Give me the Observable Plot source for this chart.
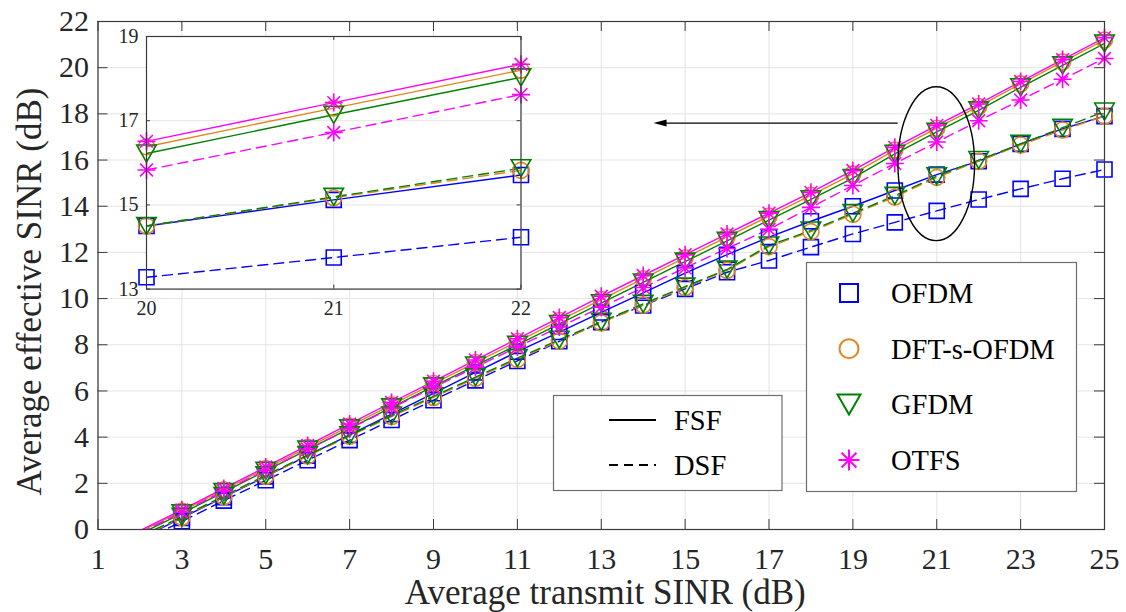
<!DOCTYPE html>
<html>
<head>
<meta charset="utf-8">
<script src="https://cdn.jsdelivr.net/npm/d3@7"></script>
<script src="https://cdn.jsdelivr.net/npm/@observablehq/plot@0.6"></script>
<style>
  html, body { margin: 0; padding: 0; background: #fff; }
  #chart { position: relative; width: 1126px; height: 612px; overflow: hidden; }
  #chart > div, #chart > svg { position: absolute; }
  #overlay { left: 0; top: 0; pointer-events: none; }
</style>
</head>
<body>
<div id="chart"></div>
<script>
// ---- data: average effective SINR (dB) versus average transmit SINR (dB) ----
const snr = [2, 3, 4, 5, 6, 7, 8, 9, 10, 11, 12, 13, 14, 15, 16, 17, 18, 19, 20, 21, 22, 23, 24, 25];

// frequency-selective fading (FSF)
const ofdmFSF = [-0.40, 0.50, 1.40, 2.30, 3.20, 4.10, 5.00, 5.90, 6.80, 7.70, 8.55, 9.40, 10.25, 11.10, 11.90, 12.66, 13.35, 14.00, 14.68, 15.37, 15.95, 16.70, 17.35, 17.90];
const dftFSF  = [-0.10, 0.80, 1.72, 2.64, 3.56, 4.48, 5.40, 6.32, 7.23, 8.14, 9.05, 9.96, 10.86, 11.77, 12.67, 13.57, 14.47, 15.40, 16.43, 17.38, 18.32, 19.30, 20.25, 21.20];
const gfdmFSF = [-0.20, 0.70, 1.62, 2.54, 3.46, 4.38, 5.29, 6.20, 7.10, 8.00, 8.90, 9.80, 10.70, 11.60, 12.50, 13.40, 14.30, 15.22, 16.27, 17.22, 18.15, 19.15, 20.10, 21.05];
const otfsFSF = [-0.05, 0.85, 1.78, 2.71, 3.64, 4.57, 5.50, 6.42, 7.34, 8.26, 9.18, 10.10, 11.00, 11.90, 12.80, 13.70, 14.60, 15.55, 16.55, 17.50, 18.43, 19.40, 20.35, 21.30];

// doubly-selective fading (DSF)
const ofdmDSF = [-0.55, 0.35, 1.25, 2.13, 3.00, 3.87, 4.74, 5.60, 6.46, 7.30, 8.15, 8.98, 9.70, 10.42, 11.14, 11.65, 12.23, 12.80, 13.30, 13.80, 14.29, 14.75, 15.19, 15.59];
const dftDSF  = [-0.35, 0.52, 1.42, 2.31, 3.18, 4.04, 4.89, 5.72, 6.55, 7.37, 8.17, 8.95, 9.72, 10.48, 11.22, 12.25, 12.90, 13.65, 14.40, 15.25, 15.95, 16.65, 17.30, 17.90];
const gfdmDSF = [-0.30, 0.55, 1.45, 2.35, 3.22, 4.08, 4.93, 5.77, 6.60, 7.42, 8.22, 9.00, 9.77, 10.52, 11.26, 12.30, 12.95, 13.70, 14.45, 15.30, 16.00, 16.70, 17.40, 18.10];
const otfsDSF = [-0.15, 0.75, 1.66, 2.57, 3.47, 4.37, 5.26, 6.15, 7.03, 7.90, 8.77, 9.63, 10.48, 11.33, 12.17, 13.00, 13.95, 14.90, 15.85, 16.78, 17.70, 18.60, 19.50, 20.40];

// zoomed view over 20-22 dB
const zoomSnr = [20, 21, 22];
const zoomOfdmFSF = [14.50, 15.12, 15.71];
const zoomDftFSF  = [16.38, 17.30, 18.20];
const zoomGfdmFSF = [16.22, 17.14, 18.03];
const zoomOtfsFSF = [16.51, 17.43, 18.34];
const zoomOfdmDSF = [13.28, 13.75, 14.23];
const zoomDftDSF  = [14.50, 15.17, 15.82];
const zoomGfdmDSF = [14.50, 15.19, 15.87];
const zoomOtfsDSF = [15.83, 16.72, 17.62];

const waveforms = ["OFDM", "DFT-s-OFDM", "GFDM", "OTFS"];
const fadingTypes = ["FSF", "DSF"];
const xTicks = [1, 3, 5, 7, 9, 11, 13, 15, 17, 19, 21, 23, 25];
const yTicks = [0, 2, 4, 6, 8, 10, 12, 14, 16, 18, 20, 22];
const zoomXTicks = [20, 21, 22];
const zoomYTicks = [13, 15, 17, 19];

const xLabel = "Average transmit SINR (dB)";
const yLabel = "Average effective SINR (dB)";

// ---- styling ----
const colors = {"OFDM": "#0000ff", "DFT-s-OFDM": "#e0861c", "GFDM": "#008000", "OTFS": "#ff00ff"};
const dashes = {"FSF": null, "DSF": "10,6"};
const FONT = "'Liberation Serif', 'Times New Roman', Times, serif";
const AXIS = "#3a3a3a";
const GRID = "#e4e4e4";

// marker shapes (MATLAB style: square, circle, down-triangle, asterisk)
const square = {draw(c, size) { const r = Math.sqrt(size / Math.PI); c.moveTo(-r, -r); c.lineTo(r, -r); c.lineTo(r, r); c.lineTo(-r, r); c.closePath(); }};
const circle = {draw(c, size) { const r = Math.sqrt(size / Math.PI); c.moveTo(r, 0); c.arc(0, 0, r, 0, 2 * Math.PI); c.closePath(); }};
const triDown = {draw(c, size) { const r = Math.sqrt(size / Math.PI); c.moveTo(-r * 1.15, -r); c.lineTo(r * 1.15, -r); c.lineTo(0, r); c.closePath(); }};
const asterisk = {draw(c, size) {
  const r = Math.sqrt(size / Math.PI), d = r * Math.SQRT1_2;
  c.moveTo(0, -r); c.lineTo(0, r); c.moveTo(-r, 0); c.lineTo(r, 0);
  c.moveTo(-d, -d); c.lineTo(d, d); c.moveTo(-d, d); c.lineTo(d, -d);
}};
const symbols = {"OFDM": square, "DFT-s-OFDM": circle, "GFDM": triDown, "OTFS": asterisk};
const markerR = {"OFDM": 7.5, "DFT-s-OFDM": 8, "GFDM": 8.5, "OTFS": 9};

function rows(xs, table) {
  const out = [];
  for (const w of waveforms) for (const f of fadingTypes) {
    table[w][f].forEach((v, i) => out.push({x: xs[i], v, wave: w, fading: f}));
  }
  return out;
}

const mainRows = rows(snr, {
  "OFDM": {FSF: ofdmFSF, DSF: ofdmDSF},
  "DFT-s-OFDM": {FSF: dftFSF, DSF: dftDSF},
  "GFDM": {FSF: gfdmFSF, DSF: gfdmDSF},
  "OTFS": {FSF: otfsFSF, DSF: otfsDSF}
});
const zoomRows = rows(zoomSnr, {
  "OFDM": {FSF: zoomOfdmFSF, DSF: zoomOfdmDSF},
  "DFT-s-OFDM": {FSF: zoomDftFSF, DSF: zoomDftDSF},
  "GFDM": {FSF: zoomGfdmFSF, DSF: zoomGfdmDSF},
  "OTFS": {FSF: zoomOtfsFSF, DSF: zoomOtfsDSF}
});

function seriesMarks(data, yMin) {
  const marks = [];
  for (const f of fadingTypes) for (const w of waveforms) {
    const d = data.filter(r => r.wave === w && r.fading === f);
    marks.push(Plot.line(d, {x: "x", y: "v", stroke: colors[w], strokeWidth: 1.4, strokeDasharray: dashes[f], clip: true}));
  }
  for (const f of fadingTypes) for (const w of waveforms) {
    const d = data.filter(r => r.wave === w && r.fading === f && r.v >= yMin);
    marks.push(Plot.dot(d, {x: "x", y: "v", symbol: symbols[w], r: markerR[w], stroke: colors[w], fill: "none", strokeWidth: 1.6}));
  }
  return marks;
}

// inward ticks on all four sides of a frame
function boxTicks(xt, yt, len, frameW, frameH) {
  return [
    Plot.tickX(xt, {x: d => d, stroke: AXIS, insetTop: frameH - len}),
    Plot.tickX(xt, {x: d => d, stroke: AXIS, insetBottom: frameH - len}),
    Plot.tickY(yt, {y: d => d, stroke: AXIS, insetRight: frameW - len}),
    Plot.tickY(yt, {y: d => d, stroke: AXIS, insetLeft: frameW - len})
  ];
}

// ---- main axes ----
const M = {left: 97.5, right: 22, top: 21, bottom: 83};
const W = 1126, H = 612;
const fw = W - M.left - M.right, fh = H - M.top - M.bottom;

const mainPlot = Plot.plot({
  width: W, height: H,
  marginLeft: M.left, marginRight: M.right, marginTop: M.top, marginBottom: M.bottom,
  x: {domain: [1, 25]},
  y: {domain: [0, 22]},
  style: {fontFamily: FONT, fontSize: "30px", color: "#262626", background: "#fff", overflow: "visible"},
  marks: [
    Plot.gridX(xTicks, {stroke: GRID, strokeOpacity: 1}),
    Plot.gridY(yTicks, {stroke: GRID, strokeOpacity: 1}),
    ...seriesMarks(mainRows, 0),
    Plot.frame({stroke: AXIS, strokeWidth: 1.2}),
    ...boxTicks(xTicks, yTicks, 10, fw, fh),
    Plot.axisX(xTicks, {tickSize: 0, tickPadding: 18, fontSize: 30, fontFamily: FONT, fill: "#262626", label: null, tickFormat: d => String(d)}),
    Plot.axisY(yTicks, {tickSize: 0, tickPadding: 9, fontSize: 30, fontFamily: FONT, fill: "#262626", label: null, tickFormat: d => String(d)}),
    Plot.text([xLabel], {frameAnchor: "bottom", lineAnchor: "middle", textAnchor: "middle", dx: 4, dy: 63, fontSize: 35, fontFamily: FONT, fill: "#262626"}),
    Plot.text([yLabel], {frameAnchor: "left", lineAnchor: "middle", textAnchor: "middle", dx: -68, dy: 16, rotate: -90, fontSize: 35, fontFamily: FONT, fill: "#262626"})
  ]
});
mainPlot.style.left = "0px";
mainPlot.style.top = "0px";
document.getElementById("chart").appendChild(mainPlot);

const sx = mainPlot.scale("x"), sy = mainPlot.scale("y");

// ---- zoomed inset ----
const IM = {left: 30, right: 12, top: 12, bottom: 34};
const inLeft = 146, inRight = 520.5, inTop = 35.7, inBottom = 288.3;
const ifw = inRight - inLeft, ifh = inBottom - inTop;
const inset = Plot.plot({
  width: ifw + IM.left + IM.right, height: ifh + IM.top + IM.bottom,
  marginLeft: IM.left, marginRight: IM.right, marginTop: IM.top, marginBottom: IM.bottom,
  x: {domain: [20, 22]},
  y: {domain: [13, 19]},
  style: {fontFamily: FONT, fontSize: "20px", color: "#262626", background: "transparent", overflow: "visible"},
  marks: [
    Plot.frame({fill: "#fff"}),
    Plot.gridX(zoomXTicks, {stroke: GRID, strokeOpacity: 1}),
    Plot.gridY(zoomYTicks, {stroke: GRID, strokeOpacity: 1}),
    ...seriesMarks(zoomRows, 13),
    Plot.frame({stroke: AXIS, strokeWidth: 1.2}),
    ...boxTicks(zoomXTicks, zoomYTicks, 4, ifw, ifh),
    Plot.axisX(zoomXTicks, {tickSize: 0, tickPadding: 12, fontSize: 20, fontFamily: FONT, fill: "#262626", label: null, tickFormat: d => String(d)}),
    Plot.axisY(zoomYTicks, {tickSize: 0, tickPadding: 8, fontSize: 20, fontFamily: FONT, fill: "#262626", label: null, tickFormat: d => String(d)})
  ]
});
const insetBox = document.createElement("div");
insetBox.style.left = (inLeft - IM.left) + "px";
insetBox.style.top = (inTop - IM.top) + "px";
insetBox.appendChild(inset);
document.getElementById("chart").appendChild(insetBox);

// ---- annotations and legends ----
const overlay = d3.select("#chart").append("svg")
  .attr("id", "overlay").attr("width", W).attr("height", H)
  .style("font-family", FONT);

// ellipse around the 21 dB region and an arrow pointing to the inset
const ellipse = {cx: 21, cy: 15.82, rx: 0.914, ry: 3.33};
overlay.append("ellipse")
  .attr("cx", sx.apply(ellipse.cx)).attr("cy", sy.apply(ellipse.cy))
  .attr("rx", sx.apply(ellipse.cx + ellipse.rx) - sx.apply(ellipse.cx))
  .attr("ry", sy.apply(ellipse.cy) - sy.apply(ellipse.cy + ellipse.ry))
  .attr("fill", "none").attr("stroke", "#000").attr("stroke-width", 1.4);

const arrow = {x1: 20.08, x2: 14.26, y: 17.58};
const ax1 = sx.apply(arrow.x1), ax2 = sx.apply(arrow.x2), ay = sy.apply(arrow.y);
overlay.append("line").attr("x1", ax1).attr("y1", ay).attr("x2", ax2 + 10).attr("y2", ay)
  .attr("stroke", "#000").attr("stroke-width", 1.3);
overlay.append("path")
  .attr("d", `M${ax2},${ay} L${ax2 + 13},${ay - 3.5} L${ax2 + 13},${ay + 3.5} Z`)
  .attr("fill", "#000");

// waveform legend
const leg1 = overlay.append("g");
leg1.append("rect").attr("x", 806.5).attr("y", 262.5).attr("width", 270).attr("height", 229)
  .attr("fill", "#fff").attr("stroke", "#6e6e6e").attr("stroke-width", 1.2);
waveforms.forEach((w, i) => {
  const y = 293 + i * 55.7;
  const r = markerR[w] + 1.5;
  leg1.append("path")
    .attr("d", d3.symbol(symbols[w], Math.PI * r * r)())
    .attr("transform", `translate(849,${y})`)
    .attr("fill", "none").attr("stroke", colors[w]).attr("stroke-width", 2);
  leg1.append("text").attr("x", 891).attr("y", y).attr("dy", "0.35em")
    .attr("font-size", 28.5).attr("fill", "#000").text(w);
});

// fading legend
const leg2 = overlay.append("g");
leg2.append("rect").attr("x", 553.5).attr("y", 395.5).attr("width", 228.5).attr("height", 95)
  .attr("fill", "#fff").attr("stroke", "#6e6e6e").attr("stroke-width", 1.2);
fadingTypes.forEach((f, i) => {
  const y = 420 + i * 45;
  leg2.append("line").attr("x1", 609).attr("x2", 656).attr("y1", y).attr("y2", y)
    .attr("stroke", "#000").attr("stroke-width", 2.2)
    .attr("stroke-dasharray", f === "DSF" ? "9,6" : null);
  leg2.append("text").attr("x", 674).attr("y", y).attr("dy", "0.35em")
    .attr("font-size", 28.5).attr("fill", "#000").text(f);
});
</script>
</body>
</html>
